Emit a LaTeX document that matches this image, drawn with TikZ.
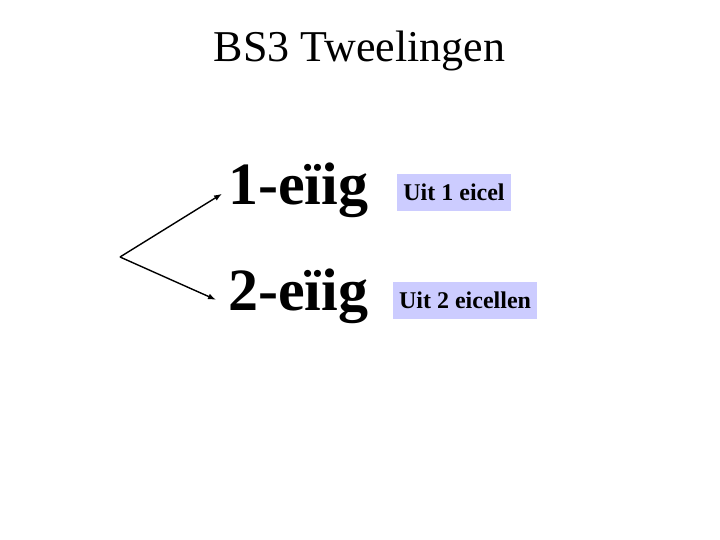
\documentclass[tikz,border=0pt]{standalone}
\usepackage{fontspec}
\setmainfont{Liberation Serif}
\usepackage{tikz}
\usetikzlibrary{positioning, arrows.meta}
\definecolor{boxblue}{HTML}{CCCCFF}

\begin{document}
\begin{tikzpicture}[x=1pt, y=-1pt,
    bigword/.style={font=\fontsize{60}{60}\selectfont\bfseries, inner sep=0pt, anchor=base west},
    eibox/.style={fill=boxblue, font=\fontsize{24}{24}\selectfont\bfseries, inner xsep=6pt, minimum height=37pt, text depth=0pt},
    pijl/.style={-{Latex[length=8pt,width=6pt]}, line width=1.4pt}]
        \useasboundingbox (0,0) rectangle (720,540);
        \node[font=\fontsize{44}{44}\selectfont, anchor=base] (titel) at (359.5,62) {BS3 Tweelingen};
        \node[bigword] (een) at (228,205) {1-eïig};
        \node[bigword] (twee) at (228,310) {2-eïig};
        \node[eibox] (eicel) at (454,192.5) {Uit 1 eicel};
        \node[eibox] (eicellen) at (465,300) {Uit 2 eicellen};
        \coordinate (splits) at (120,257);
        \draw[pijl] (splits) -- ([xshift=-6pt,yshift=-3pt]een.west);
        \draw[pijl] (splits) -- ([xshift=-12pt,yshift=-4pt]twee.west);
\end{tikzpicture}
\end{document}
